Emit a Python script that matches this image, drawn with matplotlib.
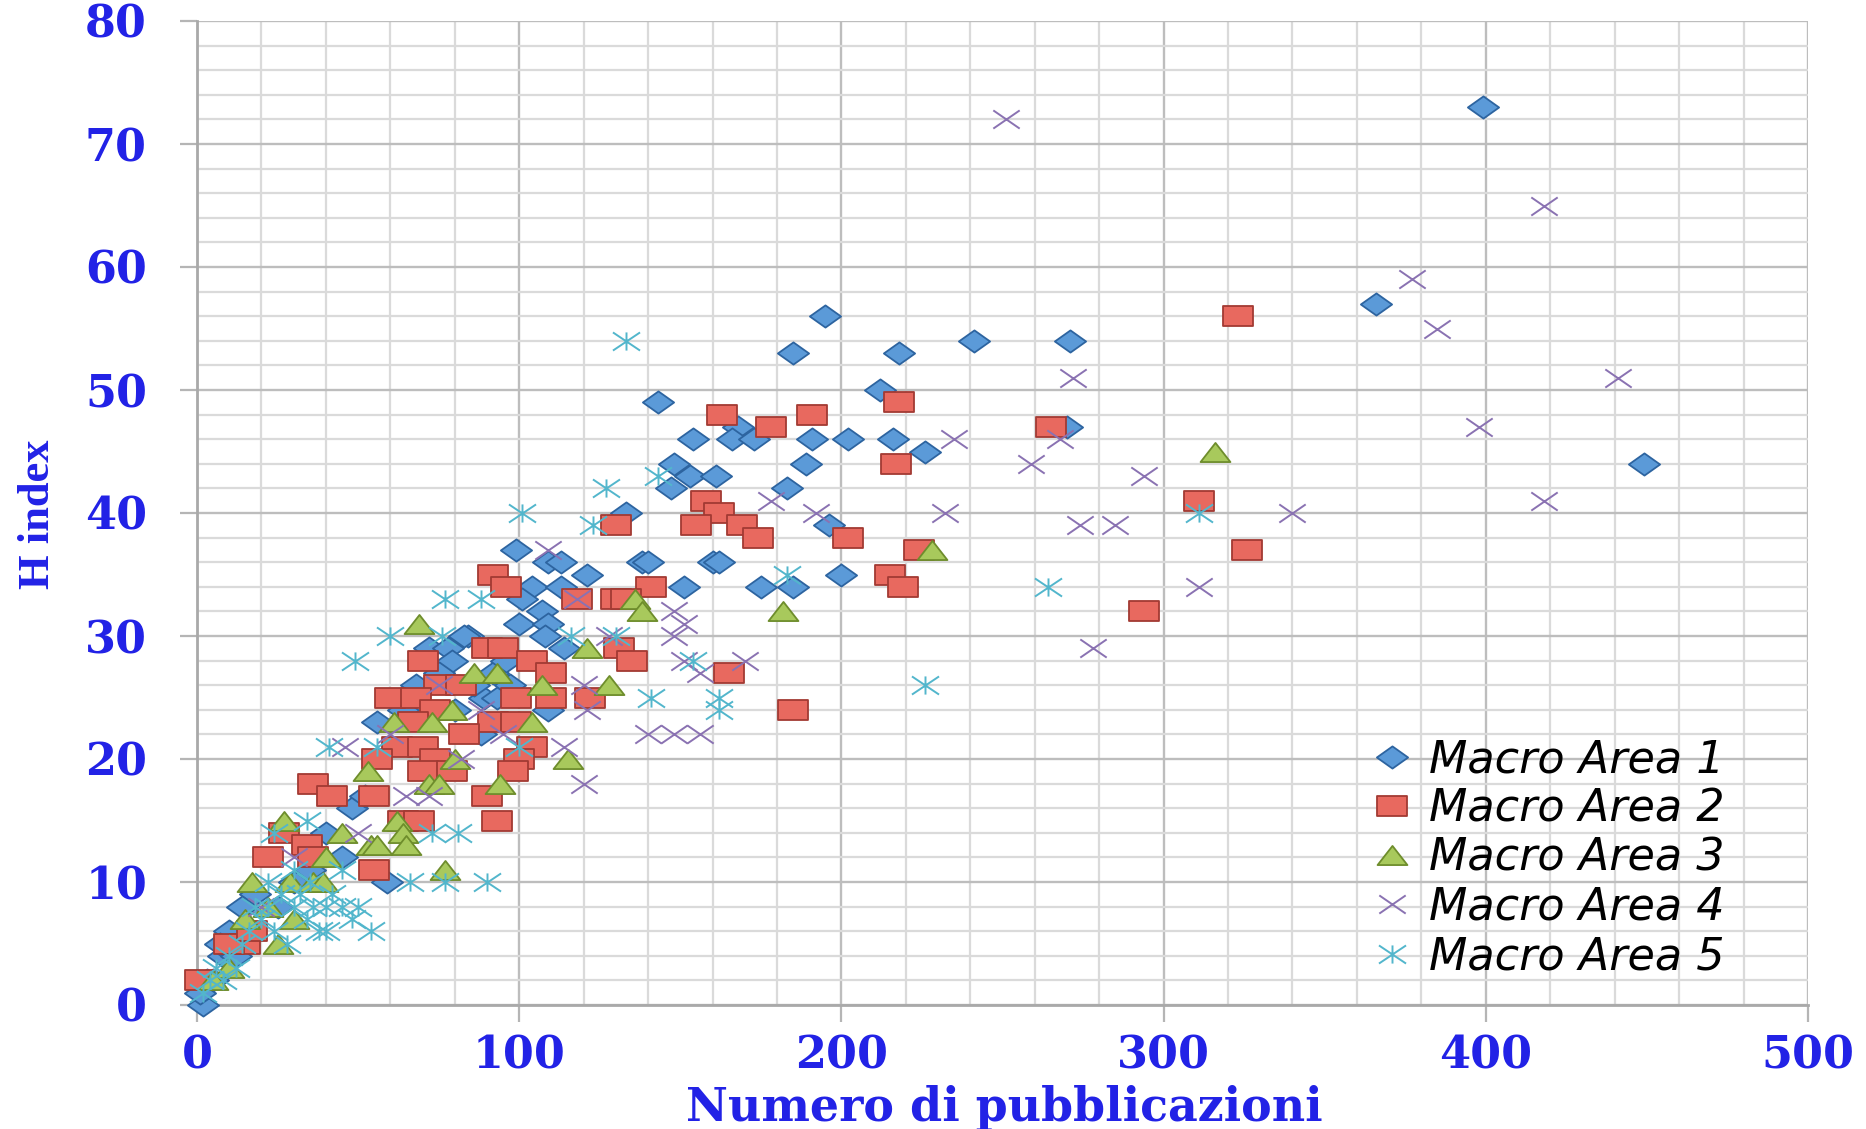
import matplotlib
matplotlib.use("Agg")
import matplotlib.pyplot as plt
from matplotlib.path import Path
from matplotlib.lines import Line2D
from matplotlib.ticker import MultipleLocator

# ---------------- data ----------------
labels = ["Macro Area 1", "Macro Area 2", "Macro Area 3", "Macro Area 4", "Macro Area 5"]

area1_x = [399, 195, 366, 185, 218, 241, 271, 143, 212, 270, 168, 449,
           154, 166, 173, 191, 202, 216, 226, 148, 189, 153, 161, 147, 183, 133, 196,
           99, 109, 113, 138, 140, 160, 162, 121, 200, 104, 113, 151, 175, 185,
           101, 107, 100, 109, 108, 114, 84, 72, 78, 79, 89, 109,
           83, 92, 96, 75, 68, 64, 86, 93, 97, 88, 80, 56,
           59, 48, 52, 45, 30, 25, 18, 14, 10, 8, 7, 5, 3, 2, 1, 12, 35, 40]
area1_y = [73, 56, 57, 53, 53, 54, 54, 49, 50, 47, 47, 44,
           46, 46, 46, 46, 46, 46, 45, 44, 44, 43, 43, 42, 42, 40, 39,
           37, 36, 36, 36, 36, 36, 36, 35, 35, 34, 34, 34, 34, 34,
           33, 32, 31, 31, 30, 29, 30, 29, 29, 28, 25, 24,
           30, 27, 28, 27, 26, 24, 26, 25, 26, 22, 24, 23,
           10, 16, 17, 12, 10, 8, 9, 8, 6, 4, 5, 2, 2, 0, 1, 4, 11, 14]

area2_x = [323, 218, 163, 191, 178, 265, 217, 158, 311, 162, 130, 155, 169, 174, 202,
           224, 326, 92, 215, 96, 141, 219, 118, 130, 133, 294, 90, 95, 131, 70,
           104, 135, 110, 165, 75, 82, 60, 68, 99, 110, 122, 185, 74, 67, 92, 99,
           83, 62, 70, 104, 56, 74, 100, 36, 42, 55, 70, 79, 98, 90, 64, 69, 93,
           27, 34, 22, 36, 55, 15, 10, 1, 17]
area2_y = [56, 49, 48, 48, 47, 47, 44, 41, 41, 40, 39, 39, 39, 38, 38,
           37, 37, 35, 35, 34, 34, 34, 33, 33, 33, 32, 29, 29, 29, 28,
           28, 28, 27, 27, 26, 26, 25, 25, 25, 25, 25, 24, 24, 23, 23, 23,
           22, 21, 21, 21, 20, 20, 20, 18, 17, 17, 19, 19, 19, 17, 15, 15, 15,
           14, 13, 12, 12, 11, 5, 5, 2, 6]

area3_x = [316, 228, 182, 136, 138, 69, 121, 86, 93, 107, 128, 79, 104, 61, 73,
           115, 80, 53, 72, 75, 94, 62, 27, 45, 64, 54, 56, 65, 77, 17, 29, 36, 39,
           15, 30, 22, 25, 10, 5, 40]
area3_y = [45, 37, 32, 33, 32, 31, 29, 27, 27, 26, 26, 24, 23, 23, 23,
           20, 20, 19, 18, 18, 18, 15, 15, 14, 14, 13, 13, 13, 11, 10, 10, 10, 10,
           7, 7, 8, 5, 3, 2, 12]

area4_x = [251, 418, 377, 385, 272, 441, 398, 235, 268, 259, 294, 178, 418, 192, 232,
           340, 274, 285, 109, 311, 148, 151, 148, 128, 151, 156, 170, 120, 121, 140,
           148, 156, 114, 278, 118, 46, 75, 88, 60, 72, 120, 30, 20, 50, 65, 82, 95]
area4_y = [72, 65, 59, 55, 51, 51, 47, 46, 46, 44, 43, 41, 41, 40, 40,
           40, 39, 39, 37, 34, 32, 31, 30, 30, 28, 27, 28, 26, 24, 22,
           22, 22, 21, 29, 33, 21, 26, 24, 22, 17, 18, 12, 8, 14, 17, 20, 22]

area5_x = [133, 143, 127, 101, 123, 183, 311, 264, 226, 77, 88, 60, 76, 116, 130, 154,
           49, 141, 162, 162, 41, 56, 100, 66, 77, 90, 73, 81, 24, 34,
           2, 4, 6, 8, 10, 12, 14, 16, 18, 20, 22, 24, 26, 28, 30, 32, 34, 36,
           38, 40, 42, 45, 48, 50, 54, 40, 35, 30, 45, 22]
area5_y = [54, 43, 42, 40, 39, 35, 40, 34, 26, 33, 33, 30, 30, 30, 30, 28,
           28, 25, 25, 24, 21, 21, 21, 10, 10, 10, 14, 14, 14, 15,
           1, 2, 3, 2, 4, 3, 5, 6, 8, 7, 8, 6, 9, 5, 8, 9, 7, 8,
           6, 8, 9, 8, 7, 8, 6, 6, 10, 11, 11, 10]

# ---------------- style ----------------
W, H = 1866, 1129
fig = plt.figure(figsize=(W / 100, H / 100), dpi=100)
ax = fig.add_axes([197 / W, 1 - 1005 / H, (1808 - 197) / W, (1005 - 21) / H])

blue_txt = "#2222e6"

def poly(verts):
    return Path(verts + [verts[0]], [Path.MOVETO] + [Path.LINETO] * (len(verts) - 1) + [Path.CLOSEPOLY])

diamond = poly([(-0.5, 0), (0, 0.355), (0.5, 0), (0, -0.355)])
rect = poly([(-0.5, -0.33), (0.5, -0.33), (0.5, 0.33), (-0.5, 0.33)])
tri = poly([(-0.5, -0.32), (0.5, -0.32), (0, 0.32)])
xmark = Path([(-0.5, -0.345), (0.5, 0.345), (-0.5, 0.345), (0.5, -0.345)],
             [Path.MOVETO, Path.LINETO, Path.MOVETO, Path.LINETO])
star = Path([(-0.5, -0.335), (0.5, 0.335), (-0.5, 0.335), (0.5, -0.335), (0, -0.335), (0, 0.335)],
            [Path.MOVETO, Path.LINETO, Path.MOVETO, Path.LINETO, Path.MOVETO, Path.LINETO])

styles = [
    dict(marker=diamond, ms=22.5, mfc="#5b9ad8", mec="#2d64a0", mew=1.3),
    dict(marker=rect, ms=21, mfc="#e8695f", mec="#a23a33", mew=1.3),
    dict(marker=tri, ms=21.5, mfc="#a8c95c", mec="#6e8d2c", mew=1.3),
    dict(marker=xmark, ms=19, mfc="none", mec="#8a72b2", mew=1.4),
    dict(marker=star, ms=19.5, mfc="none", mec="#52b6cc", mew=1.4),
]
xs = [area1_x, area2_x, area3_x, area4_x, area5_x]
ys = [area1_y, area2_y, area3_y, area4_y, area5_y]

for i, (x, y, st) in enumerate(zip(xs, ys, styles)):
    ax.plot(x, y, linestyle="none", zorder=3 + i, clip_on=False, **st)

ax.set_xlim(0, 500)
ax.set_ylim(0, 80)
ax.xaxis.set_major_locator(MultipleLocator(100))
ax.xaxis.set_minor_locator(MultipleLocator(20))
ax.yaxis.set_major_locator(MultipleLocator(10))
ax.yaxis.set_minor_locator(MultipleLocator(2))
ax.grid(which="minor", color="#dadada", lw=1.6, zorder=0)
ax.grid(which="major", color="#bdbdbd", lw=1.7, zorder=1)
ax.set_axisbelow(True)
for s in ["top", "right"]:
    ax.spines[s].set_visible(False)
for s in ["left", "bottom"]:
    ax.spines[s].set_color("#a9a9a9")
    ax.spines[s].set_linewidth(2)

ax.tick_params(which="major", direction="out", length=12, width=1.6, color="#b5b5b5")
ax.tick_params(which="minor", length=0)
ax.tick_params(axis="y", pad=24)
ax.tick_params(axis="x", pad=9)
for lab in ax.get_xticklabels() + ax.get_yticklabels():
    lab.set_fontfamily("DejaVu Serif")
    lab.set_fontweight("bold")
    lab.set_fontsize(32)
    lab.set_color(blue_txt)

fig.text(1004 / W, 1 - 1108 / H, "Numero di pubblicazioni", ha="center", va="center",
         fontsize=33, fontweight="bold", family="DejaVu Serif", color=blue_txt)
fig.text(38 / W, 1 - 514 / H, "H index", ha="center", va="center", rotation=90,
         fontsize=32, fontweight="bold", family="Liberation Serif", color=blue_txt)

handles = [Line2D([], [], linestyle="none", **st) for st in styles]
leg = fig.legend(handles, labels, loc="upper left", bbox_to_anchor=(1353 / W, 1 - 716 / H),
                 frameon=False, borderpad=0, handlelength=0.75, handletextpad=0.45,
                 labelspacing=0.14, prop=dict(family="DejaVu Sans", style="italic", size=32))
for t in leg.get_texts():
    t.set_color("black")

fig.savefig("out.png", dpi=100, facecolor="white")
